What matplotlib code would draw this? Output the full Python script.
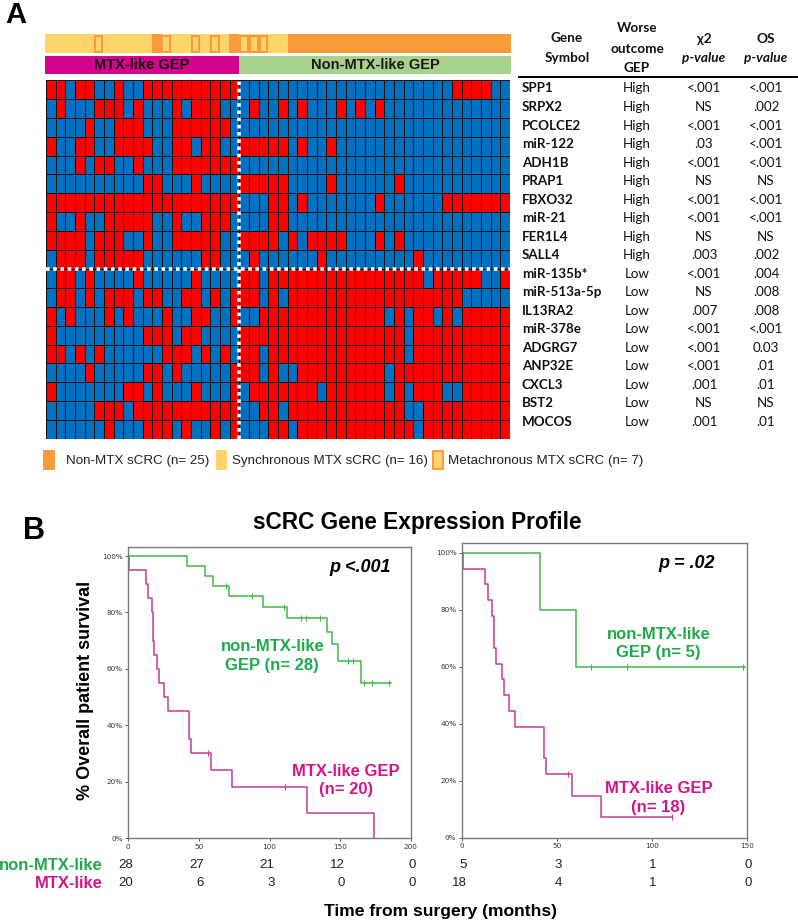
import numpy as np
import matplotlib
matplotlib.use('Agg')
import matplotlib.pyplot as plt
from matplotlib.colors import ListedColormap
from matplotlib.patches import Rectangle
from matplotlib.lines import Line2D

# ---------------- data ----------------
genes = ['SPP1', 'SRPX2', 'PCOLCE2', 'miR-122', 'ADH1B', 'PRAP1', 'FBXO32', 'miR-21',
         'FER1L4', 'SALL4', 'miR-135b*', 'miR-513a-5p', 'IL13RA2', 'miR-378e', 'ADGRG7',
         'ANP32E', 'CXCL3', 'BST2', 'MOCOS']
worse_gep = ['High'] * 10 + ['Low'] * 9
chi2_p = ['<.001', 'NS', '<.001', '.03', '<.001', 'NS', '<.001', '<.001', 'NS', '.003',
          '<.001', 'NS', '.007', '<.001', '<.001', '<.001', '.001', 'NS', '.001']
os_p = ['<.001', '.002', '<.001', '<.001', '<.001', 'NS', '<.001', '<.001', 'NS', '.002',
        '.004', '.008', '.008', '<.001', '0.03', '.01', '.01', 'NS', '.01']

# 1 = high expression (red), 0 = low (blue); 20 MTX-like + 28 non-MTX-like samples
heat_mtx = ['11011001001111111111', '01000111010001011100', '00001001110001111110',
            '10011001111001101100', '00010110010001111111', '00000000001100010000',
            '11111111111111111111', '10010011111001001110', '11110111001001111100',
            '01110111110000001100', '01101000010000010000', '01101011101100110101',
            '10100010100010011001', '10000000001110110000', '11010100000011101010',
            '00001000001101000001', '10000000110100010001', '00000111011111111111',
            '00000010001110100101']
heat_non = ['0000000000000000000000111100', '0100101000101010000000000000',
            '0000000000000000000000000000', '1111101001000000000000000000',
            '0000000000000000000000000000', '1111100001000000100000000000',
            '0001101000000010000001111111', '0001100000000000000000000000',
            '1111010111100010100000000000', '0100000010000000001000000000',
            '1101111111111111111011111001', '1101011111111111111111100000',
            '0011111111111110101101011111', '1111111111111111101111111111',
            '1101111111111111101111111111', '1101001111111110111111111111',
            '0111111101111110101110011111', '0011011111111111100111111111',
            '0001101111111111110111111111']
# sample type: S synchronous MTX, M metachronous MTX, N non-MTX
sample_type = 'SSSSSMSSSSSNMSSMSMSN' + 'MMMSS' + 'N' * 23
legend_labels = ['Non-MTX sCRC (n= 25)', 'Synchronous MTX sCRC (n= 16)', 'Metachronous MTX sCRC (n= 7)']

# Kaplan-Meier
kmL_non_t = [0, 41.3, 54.2, 60.1, 71.5, 95.5, 112.5, 141.0, 144.0, 148.6, 165.0]
kmL_non_s = [100, 96.4, 92.9, 89.3, 85.7, 81.9, 77.9, 72.9, 68.8, 62.8, 55.1]
kmL_non_end = 186
kmL_non_cens = [69, 87.3, 110, 122, 125.7, 136, 155.7, 159.2, 166.7, 172.9, 184.7]
kmL_mtx_t = [0, 0.7, 12.3, 14.2, 16.5, 17.2, 18.2, 20.5, 21.9, 25.2, 28.3, 43.2, 44.3, 58.3, 73.1, 126.7, 174.1]
kmL_mtx_s = [100, 95, 90, 85, 80, 70, 65, 60, 55, 50, 45, 35, 30, 24, 18, 9, 0]
kmL_mtx_end = 174.1
kmL_mtx_cens = [56.6, 110.8]

kmR_non_t = [0, 40.9, 60.0]
kmR_non_s = [100, 80, 60]
kmR_non_end = 149
kmR_non_cens = [68, 86.8, 148.2]
kmR_mtx_t = [0, 0.5, 11.9, 13.7, 15.8, 16.8, 17.9, 21.1, 21.9, 24.9, 27.7, 43.0, 44.0, 57.9, 73.2]
kmR_mtx_s = [100, 94.4, 88.9, 83.3, 77.8, 66.7, 61.1, 55.6, 50, 44.4, 38.9, 27.8, 22.2, 14.8, 7.4]
kmR_mtx_end = 110.9
kmR_mtx_cens = [56.1, 110.9]

risk_L_ticks = [0, 50, 100, 150, 200]
risk_L_non = [28, 27, 21, 12, 0]
risk_L_mtx = [20, 6, 3, 0, 0]
risk_R_ticks = [0, 50, 100, 150]
risk_R_non = [5, 3, 1, 0]
risk_R_mtx = [18, 4, 1, 0]

# ---------------- style ----------------
W, H = 798, 921
fig = plt.figure(figsize=(W / 100, H / 100), dpi=100)
ARIAL = ['Liberation Sans', 'DejaVu Sans']
CAL = ['Lato', 'DejaVu Sans']
RED, BLUE = '#FF0000', '#0070C0'
ORANGE, YELLOW = '#F99A3B', '#FFD46B'
MAG_BAND, GREEN_BAND = '#D1068C', '#A9D18E'
G_TXT, M_TXT = '#1DAA4B', '#D3148C'
G_LINE, M_LINE = '#45B649', '#C63A91'


def box(x0, y0, x1, y1):
    return [x0 / W, 1 - y1 / H, (x1 - x0) / W, (y1 - y0) / H]


ov = fig.add_axes([0, 0, 1, 1])
ov.set_xlim(0, W)
ov.set_ylim(H, 0)
ov.axis('off')

# ---------------- panel A ----------------
ov.text(5, 15, 'A', fontsize=21, fontweight='bold', family=ARIAL, va='center', ha='left')

mat = np.array([[int(c) for c in (a + b)] for a, b in zip(heat_mtx, heat_non)])
nrow, ncol = mat.shape
n_mtx = len(heat_mtx[0])

ax_hm = fig.add_axes(box(46, 80, 510, 439))
ax_hm.pcolormesh(mat, cmap=ListedColormap([BLUE, RED]), vmin=0, vmax=1,
                 edgecolors='#101010', linewidth=0.7)
ax_hm.set_xlim(0, ncol)
ax_hm.set_ylim(nrow, 0)
ax_hm.axis('off')
ax_hm.axvline(n_mtx, color='white', lw=2.6, ls=(0, (1, 1)))
ax_hm.axhline(worse_gep.count('High'), color='white', lw=2.6, ls=(0, (1, 1)))

# sample type bar
ax_st = fig.add_axes(box(45, 34.5, 511, 53.5))
xs = np.arange(ncol) + 0.5
base_cols = [ORANGE if t == 'N' else YELLOW for t in sample_type]
ax_st.bar(xs, 1, width=1.0, color=base_cols, linewidth=0)
meta_x = [x for x, t in zip(xs, sample_type) if t == 'M']
ax_st.bar(meta_x, 0.84, bottom=0.08, width=0.8, facecolor=YELLOW, edgecolor=ORANGE, linewidth=1.4)
ax_st.set_xlim(0, ncol)
ax_st.set_ylim(0, 1)
ax_st.axis('off')

# GEP band
ax_g = fig.add_axes(box(45, 55.7, 511, 74.3))
ax_g.bar([n_mtx / 2, n_mtx + (ncol - n_mtx) / 2], [1, 1], width=[n_mtx, ncol - n_mtx],
         color=[MAG_BAND, GREEN_BAND], linewidth=0)
ax_g.text(n_mtx / 2, 0.5, 'MTX-like GEP', ha='center', va='center', fontsize=10.5,
          fontweight='bold', family=ARIAL, color='#1a0a18')
ax_g.text(n_mtx + (ncol - n_mtx) / 2, 0.5, 'Non-MTX-like GEP', ha='center', va='center',
          fontsize=10.5, fontweight='bold', family=ARIAL, color='#1a1a1a')
ax_g.set_xlim(0, ncol)
ax_g.set_ylim(0, 1)
ax_g.axis('off')

# legend
leg_sq = [(43, 55), (216, 227), (433, 443)]
leg_tx = [66, 232, 448]
for i, ((x0, x1), tx, lab) in enumerate(zip(leg_sq, leg_tx, legend_labels)):
    if i == 0:
        ov.add_patch(Rectangle((x0, 450), x1 - x0, 20, facecolor=ORANGE, edgecolor='none'))
    elif i == 1:
        ov.add_patch(Rectangle((x0, 450), x1 - x0, 20, facecolor=YELLOW, edgecolor='none'))
    else:
        ov.add_patch(Rectangle((x0, 451), x1 - x0, 18, facecolor=YELLOW, edgecolor=ORANGE, lw=1.4))
    ov.text(tx, 461, lab, fontsize=9.6, family=ARIAL, va='center', ha='left', color='#222222')

# table
hdr_kw = dict(fontsize=9.8, fontweight='bold', family=CAL, ha='center', va='center', color='#111111')
ov.text(567, 38, 'Gene', **hdr_kw)
ov.text(567, 58, 'Symbol', **hdr_kw)
ov.text(637, 28, 'Worse', **hdr_kw)
ov.text(637, 49, 'outcome', **hdr_kw)
ov.text(637, 68, 'GEP', **hdr_kw)
ov.text(704, 39, 'χ2', **hdr_kw)
ov.text(704, 58, 'p-value', style='italic', **hdr_kw)
ov.text(766, 39, 'OS', **hdr_kw)
ov.text(766, 58, 'p-value', style='italic', **hdr_kw)
ov.add_line(Line2D([519, 797], [77, 77], color='black', lw=1.4))
for k, (g, w, c, o) in enumerate(zip(genes, worse_gep, chi2_p, os_p)):
    y = 88.5 + 18.52 * k
    ov.text(522, y, g, fontsize=9.6, fontweight='bold', family=CAL, ha='left', va='center', color='#111111')
    ov.text(637, y, w, fontsize=9.6, family=CAL, ha='center', va='center', color='#111111')
    ov.text(704, y, c, fontsize=9.6, family=CAL, ha='center', va='center', color='#111111')
    ov.text(766, y, o, fontsize=9.6, family=CAL, ha='center', va='center', color='#111111')

# ---------------- panel B ----------------
ov.text(23, 531, 'B', fontsize=22, fontweight='bold', family=ARIAL, va='center', ha='left')
ov.text(417, 522, 'sCRC Gene Expression Profile', fontsize=16.3, fontweight='bold',
        family=ARIAL, ha='center', va='center')
ov.text(85, 690, '% Overall patient survival', fontsize=13, fontweight='bold', family=ARIAL,
        rotation=90, ha='center', va='center')
ov.text(440, 911, 'Time from surgery (months)', fontsize=12.6, fontweight='bold', family=ARIAL,
        ha='center', va='center')


def surv_at(t, ts, ss):
    idx = np.searchsorted(ts, t, side='right') - 1
    return ss[idx]


def km_panel(rect, xmax, xticks, non, mtx, ptext, pxy, lab_non, lab_mtx, pos_non, pos_mtx,
             risk_ticks, risk_non, risk_mtx):
    ax = fig.add_axes(box(*rect))
    for (ts, ss, end, cens), col in ((non, G_LINE), (mtx, M_LINE)):
        tt = list(ts) + [end]
        sv = list(ss) + [ss[-1]]
        ax.step(tt, sv, where='post', color=col, lw=1.1)
        cy = [surv_at(c, ts, ss) for c in cens]
        ax.plot(cens, cy, ls='none', marker='|', ms=4.5, mew=0.8, color=col)
    ax.set_xlim(0, xmax)
    ax.set_ylim(0, 103.3)
    ax.set_xticks(xticks)
    ax.set_xticklabels([str(v) for v in xticks])
    ax.set_yticks([0, 20, 40, 60, 80, 100])
    ax.set_yticklabels(['0%', '20%', '40%', '60%', '80%', '100%'])
    ax.tick_params(labelsize=5.2, length=2.5, width=0.7, colors='#555555', labelcolor='#333333', pad=1.5)
    for s in ax.spines.values():
        s.set_color('#7a7a7a')
        s.set_linewidth(1.0)
    ax.text(pxy[0], pxy[1], ptext, transform=ax.transAxes, fontsize=13, fontweight='bold',
            style='italic', family=ARIAL, ha='right', va='center')
    ax.text(pos_non[0], pos_non[1], lab_non, transform=ax.transAxes, fontsize=12, fontweight='bold',
            family=ARIAL, ha='center', va='center', color=G_TXT, linespacing=1.3)
    ax.text(pos_mtx[0], pos_mtx[1], lab_mtx, transform=ax.transAxes, fontsize=12, fontweight='bold',
            family=ARIAL, ha='center', va='center', color=M_TXT, linespacing=1.3)
    tr = ax.get_xaxis_transform()
    for t, a, b in zip(risk_ticks, risk_non, risk_mtx):
        ax.annotate(str(a), (t, 0), xycoords=tr, xytext=(5, -27), textcoords='offset pixels',
                    ha='right', va='center', fontsize=9.5, family=ARIAL, color='#222222',
                    annotation_clip=False)
        ax.annotate(str(b), (t, 0), xycoords=tr, xytext=(5, -45), textcoords='offset pixels',
                    ha='right', va='center', fontsize=9.5, family=ARIAL, color='#222222',
                    annotation_clip=False)
    return ax


km_panel((128.3, 546.7, 410.7, 838), 200, [0, 50, 100, 150, 200],
         (kmL_non_t, kmL_non_s, kmL_non_end, kmL_non_cens),
         (kmL_mtx_t, kmL_mtx_s, kmL_mtx_end, kmL_mtx_cens),
         'p <.001', (0.93, 0.93), 'non-MTX-like\nGEP (n= 28)', 'MTX-like GEP\n(n= 20)',
         (0.51, 0.625), (0.77, 0.198), risk_L_ticks, risk_L_non, risk_L_mtx)
km_panel((462, 543.3, 746.7, 837.7), 150, [0, 50, 100, 150],
         (kmR_non_t, kmR_non_s, kmR_non_end, kmR_non_cens),
         (kmR_mtx_t, kmR_mtx_s, kmR_mtx_end, kmR_mtx_cens),
         'p = .02', (0.89, 0.93), 'non-MTX-like\nGEP (n= 5)', 'MTX-like GEP\n(n= 18)',
         (0.69, 0.66), (0.69, 0.135), risk_R_ticks, risk_R_non, risk_R_mtx)

ov.text(103, 865, 'non-MTX-like', fontsize=12, fontweight='bold', family=ARIAL, color=G_TXT,
        ha='right', va='center')
ov.text(103, 883, 'MTX-like', fontsize=12, fontweight='bold', family=ARIAL, color=M_TXT,
        ha='right', va='center')

fig.savefig('out.png', dpi=100)
